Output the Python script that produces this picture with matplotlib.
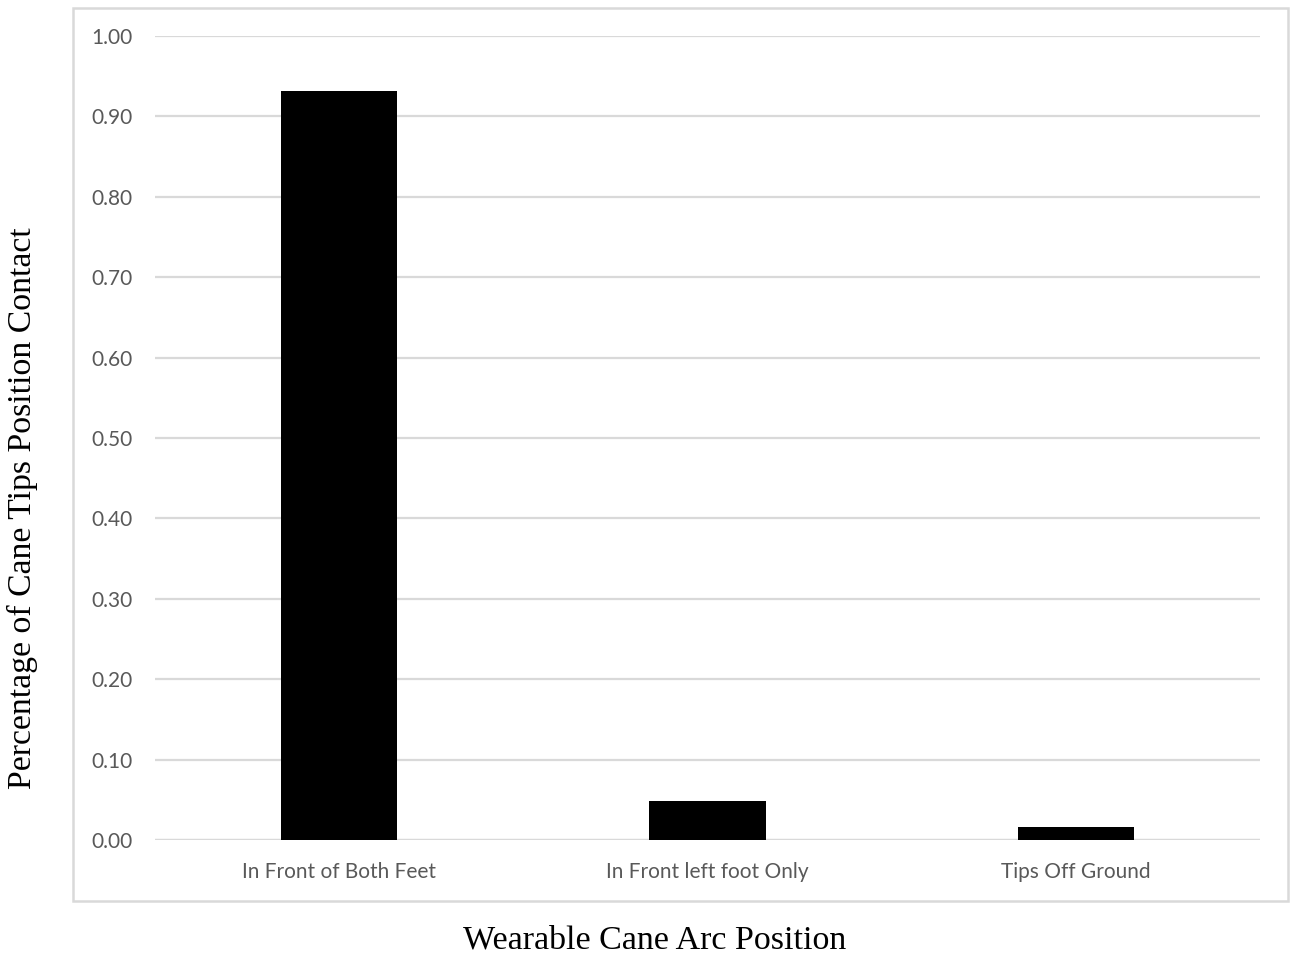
import matplotlib.pyplot as plt
import matplotlib.patches as patches
import numpy as np

categories = ['In Front of Both Feet', 'In Front left foot Only', 'Tips Off Ground']
values = [0.932, 0.049, 0.016]
yticks = [0.0, 0.1, 0.2, 0.3, 0.4, 0.5, 0.6, 0.7, 0.8, 0.9, 1.0]

fig = plt.figure(figsize=(12.99, 9.56), dpi=100)
ax = fig.add_axes([155/1299, 1-840/956, (1260-155)/1299, (840-36)/956])

x = np.arange(len(categories))
ax.bar(x, values, width=0.315, color='black', zorder=3)

ax.set_xlim(-0.5, 2.5)
ax.set_ylim(0, 1.0)
ax.set_yticks(yticks)
ax.set_yticklabels(['%.2f' % v for v in yticks])
ax.set_xticks(x)
ax.set_xticklabels(categories)
ax.grid(axis='y', color='#d9d9d9', linewidth=1.6, zorder=0)
ax.set_axisbelow(True)
for s in ax.spines.values():
    s.set_visible(False)
ax.axhline(0, color='#d9d9d9', linewidth=1.6, zorder=1)
ax.tick_params(axis='y', length=0, pad=16, labelsize=15, labelcolor='#595959')
ax.tick_params(axis='x', length=0, pad=16, labelsize=15, labelcolor='#595959')
for lab in ax.get_xticklabels() + ax.get_yticklabels():
    lab.set_fontfamily('Lato')

# outer chart border
fig.patches.append(patches.Rectangle((73/1299, 1-901/956), (1288-73)/1299, (901-8)/956,
                                     transform=fig.transFigure, fill=False,
                                     edgecolor='#d9d9d9', linewidth=1.8))

fig.text(655/1299, 1-940/956, 'Wearable Cane Arc Position', ha='center', va='center',
         fontsize=24.5, family='Liberation Serif')
fig.text(22/1299, 1-508/956, 'Percentage of Cane Tips Position Contact', ha='center',
         va='center', rotation=90, fontsize=24.3, family='Liberation Serif')

fig.savefig('out.png', dpi=100)
